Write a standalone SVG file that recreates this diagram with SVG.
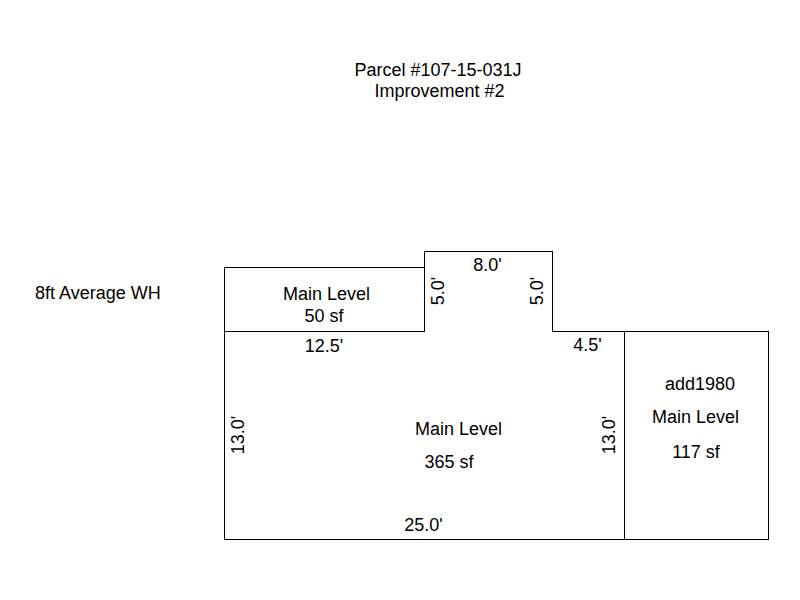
<svg xmlns="http://www.w3.org/2000/svg" width="800" height="600" viewBox="0 0 800 600">
<style>
text{font-family:"Liberation Sans",Arial,sans-serif;font-size:18px;fill:#000}
.m{text-anchor:middle}
.l{fill:none;stroke:#000;stroke-width:1;shape-rendering:crispEdges}
</style>
<rect width="800" height="600" fill="#fff"/>
<g id="connectors">
<path class="l" d="M224.500 267.500H424.500V251.500H552.500V331.500H768.500V539.500H224.500ZM224.500 331.500H424.500V267.500M624.500 331.500V539.500"/>
</g>
<g id="title"><text class="m" x="438" y="76">Parcel #107-15-031J</text><text class="m" x="439.500" y="97">Improvement #2</text></g>
<g id="note"><text x="35" y="299">8ft Average WH</text></g>
<g id="upper"><text class="m" x="326.500" y="300">Main Level</text><text class="m" x="324" y="322">50 sf</text></g>
<g id="main"><text class="m" x="458.500" y="435">Main Level</text><text class="m" x="449" y="468">365 sf</text></g>
<g id="add"><text class="m" x="700" y="390">add1980</text><text class="m" x="695.500" y="423">Main Level</text><text class="m" x="696" y="458">117 sf</text></g>
<g id="dims">
<text class="m" x="487.500" y="271">8.0'</text>
<text class="m" x="324" y="352">12.5'</text>
<text class="m" x="587.500" y="351">4.5'</text>
<text class="m" x="423.500" y="531">25.0'</text>
<text class="m" transform="translate(444,291) rotate(-90)">5.0'</text>
<text class="m" transform="translate(543,291) rotate(-90)">5.0'</text>
<text class="m" transform="translate(244,435) rotate(-90)">13.0'</text>
<text class="m" transform="translate(615,435) rotate(-90)">13.0'</text>
</g>
</svg>
